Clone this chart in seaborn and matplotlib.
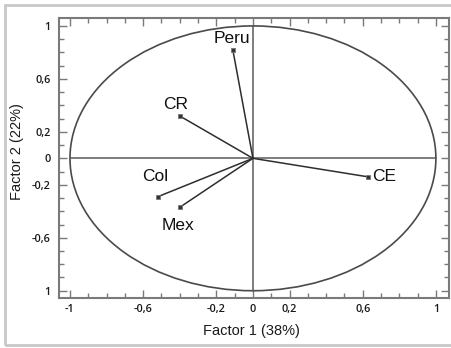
import numpy as np
import pandas as pd
import matplotlib
matplotlib.use("Agg")
import matplotlib.pyplot as plt
from matplotlib.patches import Circle, Rectangle
from matplotlib.ticker import FixedLocator, MultipleLocator
import seaborn as sns

# Loadings of each variable on the first two factors
variables = ["Peru", "CR", "Col", "Mex", "CE"]
factor1 = [-0.11, -0.40, -0.52, -0.40, 0.63]
factor2 = [0.82, 0.32, -0.29, -0.37, -0.14]

# Label anchor positions (factor space)
label_x = [-0.115, -0.42, -0.535, -0.41, 0.715]
label_y = [0.905, 0.41, -0.14, -0.51, -0.14]

x_ticks = [-1, -0.6, -0.2, 0, 0.2, 0.6, 1]
x_ticklabels = ["-1", "-0,6", "-0,2", "0", "0,2", "0,6", "1"]
y_ticks = [1, 0.6, 0.2, 0, -0.2, -0.6, -1]
y_ticklabels = ["1", "0,6", "0,2", "0", "-0,2", "-0,6", "1"]

sns.set_theme(style="white")
plt.rcParams["font.family"] = ["Liberation Sans", "DejaVu Sans"]

fig = plt.figure(figsize=(4.51, 3.48), dpi=100)
ax = fig.add_axes([59 / 451, 50 / 348, (448.7 - 59) / 451, (298 - 18) / 348])

line_col = "#2e2e2e"
axis_col = "#7a7a7a"

# Correlation circle and reference axes
ax.add_patch(Circle((0, 0), 1.0, fill=False, edgecolor="#4a4a4a", linewidth=1.2, zorder=1))
ax.plot([-1, 1], [0, 0], color="#5a5a5a", linewidth=1.1, zorder=1)
ax.plot([0, 0], [-1, 1], color="#5a5a5a", linewidth=1.1, zorder=1)

# Vectors from the origin to each loading
rows = []
for v, fx, fy in zip(variables, factor1, factor2):
    rows.append({"var": v, "x": 0.0, "y": 0.0, "step": 0})
    rows.append({"var": v, "x": fx, "y": fy, "step": 1})
vec = pd.DataFrame(rows)
sns.lineplot(data=vec, x="x", y="y", units="var", estimator=None, sort=False,
             color=line_col, linewidth=1.1, ax=ax, legend=False, zorder=2)

pts = pd.DataFrame({"var": variables, "x": factor1, "y": factor2})
sns.scatterplot(data=pts, x="x", y="y", marker="s", s=7, color="#333333",
                edgecolor="#777777", linewidth=0.6, ax=ax, legend=False, zorder=3)

for v, lx, ly in zip(variables, label_x, label_y):
    ax.text(lx, ly, v, ha="center", va="center", fontsize=12.5, color="#111111",
            family=["Liberation Sans Narrow", "Liberation Sans", "DejaVu Sans"])

ax.set_xlim(-1.06, 1.07)
ax.set_ylim(-1.055, 1.06)

ax.xaxis.set_major_locator(FixedLocator(x_ticks))
ax.yaxis.set_major_locator(FixedLocator(y_ticks))
ax.xaxis.set_minor_locator(MultipleLocator(0.1))
ax.yaxis.set_minor_locator(MultipleLocator(0.1))
ax.set_xticklabels(x_ticklabels)
ax.set_yticklabels(y_ticklabels)

ax.tick_params(which="both", direction="in", top=True, right=True, bottom=True, left=True,
               color=axis_col, width=1.0)
ax.tick_params(which="major", length=6)
ax.tick_params(which="minor", length=3.5)
ax.tick_params(axis="x", which="major", pad=4)
ax.tick_params(axis="y", which="major", pad=6)
for lab in ax.get_xticklabels() + ax.get_yticklabels():
    lab.set_family(["Open Sans", "DejaVu Sans"])
    lab.set_fontsize(7.8)
    lab.set_fontweight("semibold")
    lab.set_color("#1a1a1a")

for s in ax.spines.values():
    s.set_color(axis_col)
    s.set_linewidth(1.5)

ax.set_xlabel("")
ax.set_ylabel("")
fig.text(251 / 451, 1 - 331 / 348, "Factor 1 (38%)", ha="center", va="center",
         fontsize=10.5, color="#1a1a1a")
fig.text(17.5 / 451, 1 - 152 / 348, "Factor 2 (22%)", ha="center", va="center",
         rotation=90, fontsize=10.5, color="#1a1a1a")

# Light frame around the whole figure
fig.patches.append(Rectangle((4.5 / 451, 3.5 / 348), 1.2, 1 - 8.5 / 348,
                             transform=fig.transFigure, fill=False,
                             edgecolor="#c8c8c8", linewidth=2.0))

fig.savefig("out.png", dpi=100)
